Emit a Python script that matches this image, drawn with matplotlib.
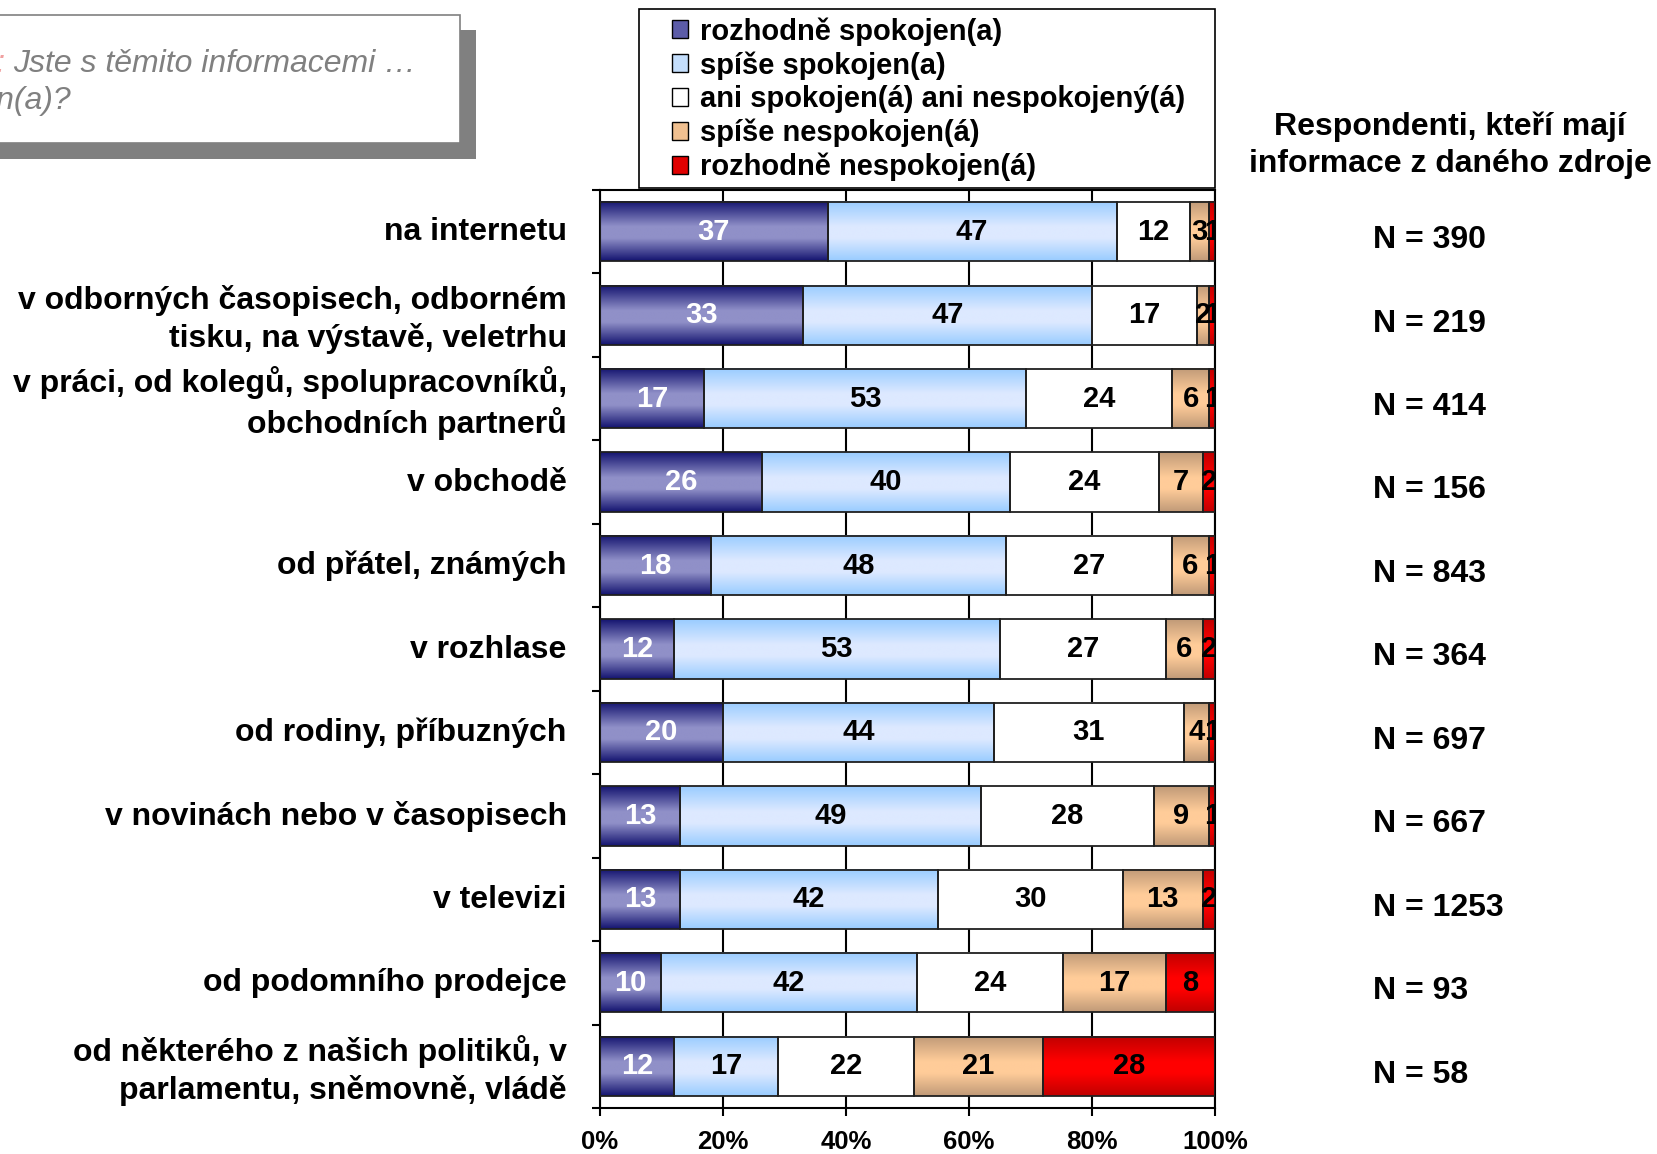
import matplotlib.pyplot as plt
import matplotlib.transforms as mtransforms
import numpy as np
from matplotlib.colors import LinearSegmentedColormap
from matplotlib.patches import Rectangle

plt.rcParams['font.family'] = ['Liberation Sans', 'DejaVu Sans']

categories = [
    "na internetu",
    "v odborných časopisech, odborném\ntisku, na výstavě, veletrhu",
    "v práci, od kolegů, spolupracovníků,\nobchodních partnerů",
    "v obchodě",
    "od přátel, známých",
    "v rozhlase",
    "od rodiny, příbuzných",
    "v novinách nebo v časopisech",
    "v televizi",
    "od podomního prodejce",
    "od některého z našich politiků, v\nparlamentu, sněmovně, vládě",
]
very_satisfied = [37, 33, 17, 26, 18, 12, 20, 13, 13, 10, 12]
rather_satisfied = [47, 47, 53, 40, 48, 53, 44, 49, 42, 42, 17]
neutral = [12, 17, 24, 24, 27, 27, 31, 28, 30, 24, 22]
rather_dissatisfied = [3, 2, 6, 7, 6, 6, 4, 9, 13, 17, 21]
very_dissatisfied = [1, 1, 1, 2, 1, 2, 1, 1, 2, 8, 28]
respondents = [390, 219, 414, 156, 843, 364, 697, 667, 1253, 93, 58]
series_names = [
    "rozhodně spokojen(a)",
    "spíše spokojen(a)",
    "ani spokojen(á) ani nespokojený(á)",
    "spíše nespokojen(á)",
    "rozhodně nespokojen(á)",
]
x_ticks = [0, 20, 40, 60, 80, 100]

# (edge colour, middle colour) of the vertical gradient, text colour, legend colour
styles = [
    ("#141470", "#9090c8", "white", "#5c5ca8"),
    ("#99ccff", "#dde9ff", "black", "#c4defc"),
    ("#ffffff", "#ffffff", "black", "#ffffff"),
    ("#c09a78", "#ffcc99", "black", "#f0c090"),
    ("#c00000", "#ff0000", "black", "#e00000"),
]

fig = plt.figure(figsize=(16.57, 11.54), dpi=100)
W, H = 1657, 1154
ax = fig.add_axes([600 / W, 1 - 1108 / H, 615 / W, 918 / H])

data = np.array([very_satisfied, rather_satisfied, neutral,
                 rather_dissatisfied, very_dissatisfied], dtype=float)
shares = data / data.sum(axis=0) * 100
y = np.arange(len(categories))
left = np.zeros(len(categories))
grad = np.linspace(0, 1, 128).reshape(-1, 1)

for k, (edge, mid, tcolor, _) in enumerate(styles):
    cmap = LinearSegmentedColormap.from_list(
        f"s{k}", [(0, edge), (0.42, mid), (0.62, mid), (1, edge)])
    bars = ax.barh(y, shares[k], left=left, height=0.71, facecolor="none",
                   edgecolor="#202020", linewidth=1.3, zorder=3)
    for bar, val in zip(bars, data[k]):
        x0, y0 = bar.get_x(), bar.get_y()
        w, h = bar.get_width(), bar.get_height()
        ax.imshow(grad, cmap=cmap, extent=(x0, x0 + w, y0 + h, y0),
                  aspect="auto", interpolation="bilinear", zorder=2)
        ax.text(x0 + w / 2, y0 + h / 2, f"{int(val)}", ha="center", va="center",
                fontsize=21, fontweight="bold", color=tcolor, zorder=4,
                clip_on=True)
    left += shares[k]

ax.set_xlim(0, 100)
ax.set_ylim(len(categories) - 0.5, -0.5)

ax.set_xticks(x_ticks)
ax.set_xticklabels([f"{t}%" for t in x_ticks], fontsize=18.5, fontweight="bold")
ax.tick_params(axis="x", length=6, width=1.5, pad=10)
ax.set_yticks(y)
ax.set_yticklabels(categories, fontsize=23, fontweight="bold")
ax.set_yticks(np.arange(-0.5, len(categories), 1), minor=True)
ax.tick_params(axis="y", which="major", length=0, pad=24)
ax.tick_params(axis="y", which="minor", length=6, width=1.5)
shift_up = mtransforms.ScaledTranslation(0, 3 / 100, fig.dpi_scale_trans)
for lbl in ax.get_yticklabels():
    lbl.set_linespacing(1.3)
    lbl.set_transform(lbl.get_transform() + shift_up)
ax.xaxis.grid(True, color="black", linewidth=1.5)
ax.set_axisbelow(True)
for sp in ax.spines.values():
    sp.set_linewidth(1.5)

for i, n in enumerate(respondents):
    ax.annotate(f"N = {n}", xy=(1.0, i), xycoords=("axes fraction", "data"),
                xytext=(114, -6), textcoords="offset points", ha="left",
                va="center", fontsize=23, fontweight="bold")

fig.text(1450 / W, 1 - 145 / H, "Respondenti, kteří mají\ninformace z daného zdroje",
         ha="center", va="center", fontsize=23, fontweight="bold", linespacing=1.3)

# legend box drawn separately so the padding matches
fig.patches.append(Rectangle((639 / W, 1 - 188 / H), 576 / W, 179 / H,
                             transform=fig.transFigure, facecolor="white",
                             edgecolor="black", lw=1.2, zorder=1))
handles = [Rectangle((0, 0), 1, 1, facecolor=s[3], edgecolor="black", lw=1)
           for s in styles]
leg = fig.legend(handles, series_names, loc="upper left",
                 bbox_to_anchor=(672 / W, 1 - 17 / H), frameon=False,
                 prop=dict(weight="bold", size=21), handlelength=0.55,
                 handleheight=0.55, handletextpad=0.4, labelspacing=0.19,
                 borderpad=0, borderaxespad=0)
leg.set_zorder(2)

# question box with shadow, cut at the left edge
fig.patches.append(Rectangle((-0.01, 1 - 159 / H), 0.01 + 476 / W, 129 / H,
                             transform=fig.transFigure, facecolor="#808080",
                             edgecolor="none", zorder=0))
fig.patches.append(Rectangle((-0.01, 1 - 143 / H), 0.01 + 460 / W, 128 / H,
                             transform=fig.transFigure, facecolor="white",
                             edgecolor="#808080", lw=1.2, zorder=1))
fig.text(5 / W, 1 - 64 / H, "Otázka:", ha="right", va="center", fontsize=23,
         style="italic", color="#f0a0a0")
fig.text(13 / W, 1 - 64 / H, "Jste s těmito informacemi …", ha="left",
         va="center", fontsize=23, style="italic", color="#808080")
fig.text(72 / W, 1 - 101 / H, "spokojen(a)?", ha="right", va="center",
         fontsize=23, style="italic", color="#808080")

fig.savefig("out.png", dpi=100)
